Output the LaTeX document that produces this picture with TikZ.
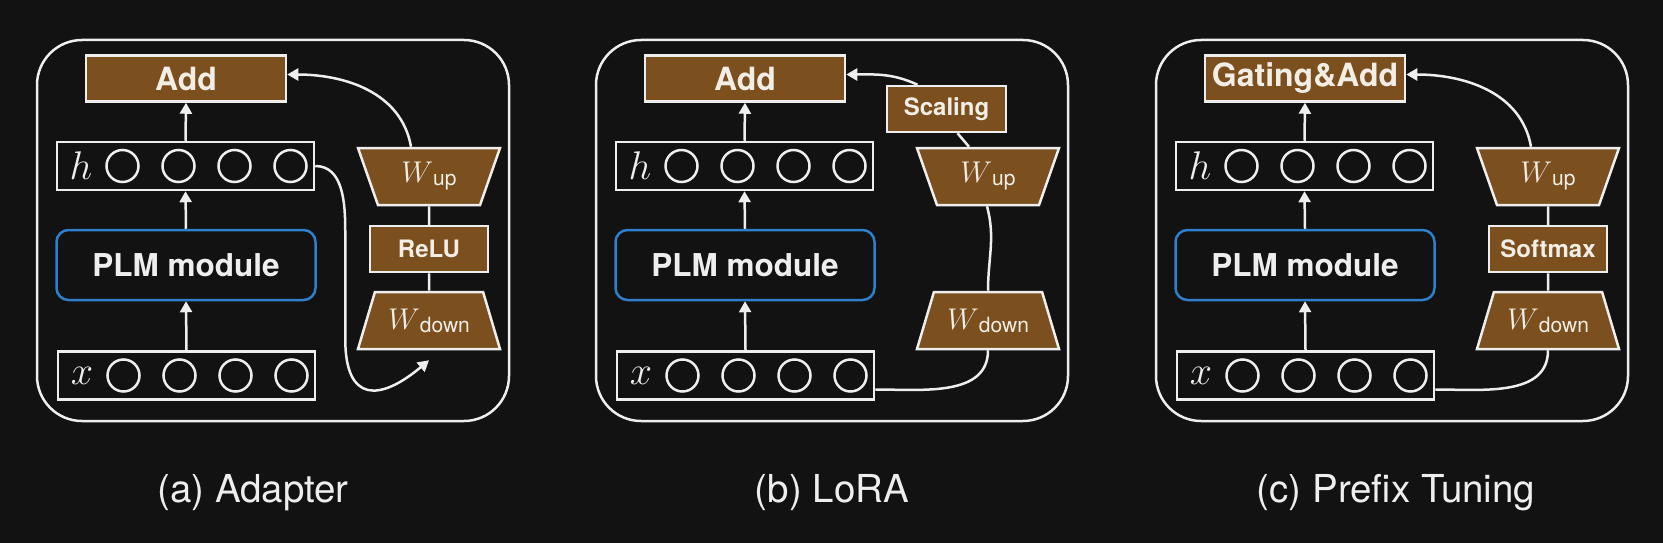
\RequirePackage{fix-cm}
\documentclass[tikz,border=0pt]{standalone}
\usepackage{fontspec}
\setmainfont{TeX Gyre Heros}
\usetikzlibrary{arrows.meta,shapes.geometric}

\definecolor{bgdark}{HTML}{121212}
\definecolor{wbrown}{HTML}{7B4F1E}
\definecolor{plmblue}{HTML}{2F80CC}
\definecolor{stroke}{HTML}{EEEEEE}
\definecolor{boxtext}{HTML}{F2EEE6}

\tikzset{
    panel/.style={draw=stroke, line width=2.5pt, rounded corners=45pt},
    opbox/.style={draw=stroke, fill=wbrown, line width=2.5pt, text=boxtext,
        minimum width=200pt, minimum height=46pt, inner sep=0pt,
        font=\fontsize{32}{32}\selectfont\bfseries},
    act/.style={minimum width=118pt, font=\fontsize{24}{24}\selectfont\bfseries},
    rowbox/.style={draw=stroke, line width=2.5pt, minimum width=257pt, minimum height=48pt, inner sep=0pt},
    unit/.style={circle, draw=stroke, line width=2.5pt, minimum size=32pt, inner sep=0pt},
    symb/.style={text=stroke, inner sep=0pt, font=\fontsize{40}{40}\selectfont},
    plm/.style={draw=plmblue, line width=2.5pt, rounded corners=12pt, minimum width=259pt,
        minimum height=70pt, text=stroke, font=\fontsize{31.5}{31.5}\selectfont\bfseries},
    wtrap/.style={trapezium, trapezium angle=54.6, trapezium stretches body,
        minimum width=142pt, minimum height=57pt, inner sep=0pt,
        draw=stroke, fill=wbrown, line width=2.5pt, text=boxtext},
    wup/.style={wtrap, shape border rotate=180},
    wdown/.style={wtrap},
    line/.style={draw=stroke, line width=2.5pt},
    arr/.style={line, -{Triangle[length=11pt,width=12pt]}},
    caption/.style={text=stroke, font=\fontsize{38.5}{38.5}\selectfont}
}

\newcommand{\Wlab}[1]{{\fontsize{30}{30}\selectfont$W$}\raisebox{-3pt}{\fontsize{21}{21}\selectfont #1}}

% one row of units: name, left edge, centre y, symbol
\newcommand{\drawRow}[4]{
    \node[rowbox] (#1) at (#2+128.5,#3) {};
    \node[symb] (#1s) at (#2+24,#3) {$#4$};
    \node[unit] (#1a) at (#2+65.5,#3) {};
    \node[unit] (#1b) at (#2+121.5,#3) {};
    \node[unit] (#1c) at (#2+177.5,#3) {};
    \node[unit] (#1d) at (#2+233.5,#3) {};
}

% frame, top box, h, PLM module and x: prefix, left edge, top text
\newcommand{\drawPanel}[3]{
    \draw[panel] (#2,40) rectangle (#2+472,421);
    \node[opbox] (#1add) at (#2+149,78.5) {#3};
    \drawRow{#1h}{#2+20}{166}{h}
    \node[plm] (#1plm) at (#2+149,265) {PLM module};
    \drawRow{#1x}{#2+21}{375.5}{x}
    \draw[arr] (#1x.north) -- (#1plm.south);
    \draw[arr] (#1plm.north) -- (#1h.south);
    \draw[arr] (#1h.north) -- (#1add.south);
}

\begin{document}
\begin{tikzpicture}[x=1pt, y=-1pt]

\useasboundingbox (0,0) rectangle (1663,543);
\fill[bgdark] (0,0) rectangle (1663,543);

% (a) Adapter
\drawPanel{a}{37}{Add}
\node[wup] (awup) at (37+392,176.5) {\Wlab{up}};
\node[opbox, act] (arelu) at (37+392,249) {ReLU};
\node[wdown] (awdown) at (37+392,320.5) {\Wlab{down}};
\draw[line] (awup.south) -- (arelu.north);
\draw[line] (arelu.south) -- (awdown.north);
\draw[arr] ([xshift=-18pt]awup.north) to[out=100,in=0] ([yshift=4pt]aadd.east);
\draw[arr] (ah.east) to[out=0,in=90] ++(30,65) -- ++(0,108)
    to[out=-90,in=-140,looseness=1.9] ([yshift=-10pt]awdown.south);
\node[caption] (acap) at (253,493) {(a) Adapter};

% (b) LoRA
\drawPanel{b}{596}{Add}
\node[opbox, act, minimum width=119pt] (bscale) at (596+350.5,109) {Scaling};
\node[wup] (bwup) at (596+392,176.5) {\Wlab{up}};
\node[wdown] (bwdown) at (596+392,320.5) {\Wlab{down}};
\draw[line] ([yshift=-14pt]bx.east) to[out=0,in=-90] (bwdown.south);
\draw[line] (bwdown.north) to[out=90,in=-75] ([xshift=-1pt]bwup.south);
\draw[line] ([xshift=-19pt]bwup.north) -- ([xshift=11pt]bscale.south);
\draw[arr] ([xshift=-29pt]bscale.north) to[out=155,in=0] ([yshift=4pt]badd.east);
\node[caption] (bcap) at (832,493) {(b) LoRA};

% (c) Prefix Tuning
\drawPanel{c}{1156}{Gating\&Add}
\node[wup] (cwup) at (1156+392,176.5) {\Wlab{up}};
\node[opbox, act] (csoft) at (1156+392,249) {Softmax};
\node[wdown] (cwdown) at (1156+392,320.5) {\Wlab{down}};
\draw[line] (cwup.south) -- (csoft.north);
\draw[line] (csoft.south) -- (cwdown.north);
\draw[line] ([yshift=-14pt]cx.east) to[out=0,in=-90] (cwdown.south);
\draw[arr] ([xshift=-17pt]cwup.north) to[out=100,in=0] ([yshift=4pt]cadd.east);
\node[caption] (ccap) at (1396,493) {(c) Prefix Tuning};

\end{tikzpicture}
\end{document}
